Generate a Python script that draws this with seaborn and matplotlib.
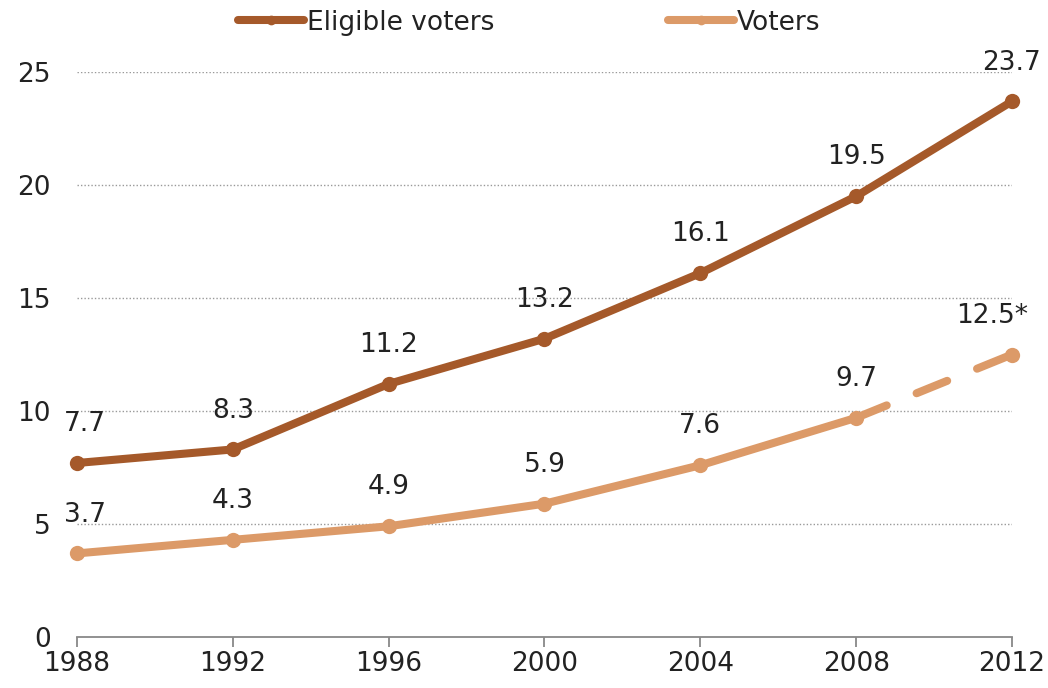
import matplotlib
matplotlib.use("Agg")
import matplotlib.pyplot as plt
from matplotlib.lines import Line2D
import seaborn as sns
import pandas as pd

years = [1988, 1992, 1996, 2000, 2004, 2008, 2012]
eligible = [7.7, 8.3, 11.2, 13.2, 16.1, 19.5, 23.7]
voters = [3.7, 4.3, 4.9, 5.9, 7.6, 9.7, 12.5]
eligible_labels = ["7.7", "8.3", "11.2", "13.2", "16.1", "19.5", "23.7"]
voter_labels = ["3.7", "4.3", "4.9", "5.9", "7.6", "9.7", "12.5*"]
y_ticks = [0, 5, 10, 15, 20, 25]

DARK = "#A5592A"
LIGHT = "#DC9A68"
TEXT = "#222222"
FS = 19

sns.set_theme(style="white")
plt.rcParams["font.family"] = ["DejaVu Sans"]

df = pd.DataFrame({"year": years, "eligible": eligible, "voters": voters})

fig = plt.figure(figsize=(10.48, 6.88), dpi=100)
ax = fig.add_axes([0.0735, 0.0741, 0.8921, 0.8212])

lw = 5.8
ms = 11

# Eligible voters: solid throughout
sns.lineplot(data=df, x="year", y="eligible", ax=ax, color=DARK, lw=lw,
             marker="o", markersize=ms, markeredgewidth=0,
             solid_capstyle="round", clip_on=False, zorder=3)

# Voters: solid through 2008, projected 2012 value dashed
solid = df[df["year"] <= 2008]
proj = df[df["year"] >= 2008]
sns.lineplot(data=solid, x="year", y="voters", ax=ax, color=LIGHT, lw=lw,
             marker="o", markersize=ms, markeredgewidth=0,
             solid_capstyle="round", clip_on=False, zorder=3)
sns.lineplot(data=proj, x="year", y="voters", ax=ax, color=LIGHT, lw=lw,
             dashes=False, clip_on=False, zorder=2,
             linestyle=(0, (4.1, 4.0)), dash_capstyle="round")
ax.plot([2012], [voters[-1]], "o", color=LIGHT, markersize=ms,
        markeredgewidth=0, clip_on=False, zorder=3)

# Value labels
for i, (x, y, t) in enumerate(zip(years, eligible, eligible_labels)):
    dx = 6 if i == 0 else 0
    ax.annotate(t, (x, y), xytext=(dx, 28), textcoords="offset points",
                ha="center", va="center", fontsize=FS, color=TEXT)
for i, (x, y, t) in enumerate(zip(years, voters, voter_labels)):
    dx = 6 if i == 0 else (-14 if i == len(years) - 1 else 0)
    ax.annotate(t, (x, y), xytext=(dx, 28), textcoords="offset points",
                ha="center", va="center", fontsize=FS, color=TEXT)

ax.set_xlim(1988, 2012)
ax.set_ylim(0, 25)
ax.set_xticks(years)
ax.set_yticks(y_ticks)
ax.set_xlabel("")
ax.set_ylabel("")

for yv in y_ticks[1:]:
    ax.axhline(yv, color="#999999", lw=1.0, ls=(0, (1, 1.5)), zorder=1)

for s in ["top", "right", "left"]:
    ax.spines[s].set_visible(False)
ax.spines["bottom"].set_color("#888888")
ax.spines["bottom"].set_linewidth(1.3)
ax.tick_params(axis="x", bottom=True, length=7, width=1.3, color="#888888",
               labelsize=FS, labelcolor=TEXT, pad=3)
ax.tick_params(axis="y", left=False, length=0, labelsize=FS, labelcolor=TEXT,
               pad=19)
ax.grid(False)

handles = [
    Line2D([0], [0], color=DARK, lw=lw, marker="o", markersize=7,
           markeredgewidth=0, solid_capstyle="round"),
    Line2D([0], [0], color=LIGHT, lw=lw, marker="o", markersize=7,
           markeredgewidth=0, solid_capstyle="round"),
]
fig.legend(handles, ["Eligible voters", "Voters"], loc="center",
           bbox_to_anchor=(0.505, 0.967), ncol=2, frameon=False,
           fontsize=FS, handlelength=2.5, handletextpad=0.1,
           columnspacing=6.6, labelcolor=TEXT)

fig.savefig("out.png", dpi=100)
